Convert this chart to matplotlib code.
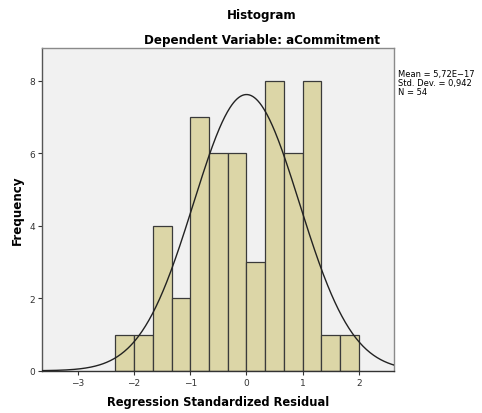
import numpy as np
import matplotlib.pyplot as plt

# histogram of regression standardized residuals
bin_edges = np.linspace(-7 / 3, 2, 14)
counts = [1, 1, 4, 2, 7, 6, 6, 3, 8, 6, 8, 1, 1]
mean, std, n = 5.72e-17, 0.942, 54
x_ticks = [-3, -2, -1, 0, 1, 2]
y_ticks = [0, 2, 4, 6, 8]

fig = plt.figure(figsize=(4.82, 4.14), dpi=100)
ax = fig.add_axes([0.088, 0.102, 0.729, 0.779])
ax.set_facecolor('#f1f1f1')

widths = np.diff(bin_edges)
ax.bar(bin_edges[:-1], counts, width=widths, align='edge', color='#dcd6a7',
       edgecolor='#3a3a3a', linewidth=0.9, zorder=2)

# normal curve scaled to counts
xs = np.linspace(-3.63, 2.62, 400)
bw = widths[0]
ys = n * bw / (std * np.sqrt(2 * np.pi)) * np.exp(-0.5 * ((xs - mean) / std) ** 2)
ax.plot(xs, ys, color='#222222', linewidth=1.0, zorder=3)

ax.set_xlim(-3.63, 2.62)
ax.set_ylim(0, 8.9)
ax.set_xticks(x_ticks)
ax.set_xticklabels(['\u2212%d' % -t if t < 0 else str(t) for t in x_ticks])
ax.set_yticks(y_ticks)
ax.tick_params(labelsize=6.5, length=3, width=0.8, colors='#333333', pad=2)

for s in ax.spines.values():
    s.set_color('#8a8a8a')
    s.set_linewidth(1.0)
ax.spines['left'].set_color('#555555')
ax.spines['bottom'].set_color('#333333')

ax.set_xlabel('Regression Standardized Residual', fontsize=8.3, fontweight='bold', labelpad=6)
ax.set_ylabel('Frequency', fontsize=8.6, fontweight='bold')
ax.yaxis.set_label_coords(-0.053, 0.5)

fig.text(0.543, 0.963, 'Histogram', ha='center', va='center', fontsize=8.6, fontweight='bold')
fig.text(0.543, 0.903, 'Dependent Variable: aCommitment', ha='center', va='center',
         fontsize=8.6, fontweight='bold')

fig.text(0.826, 0.83, 'Mean = 5,72E\u221217\nStd. Dev. = 0,942\nN = 54', ha='left', va='top',
         fontsize=6, linespacing=0.95)

fig.savefig('out.png', dpi=100)
